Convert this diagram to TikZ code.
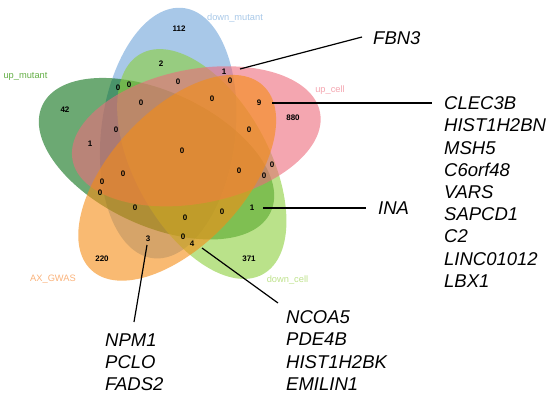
\documentclass[tikz,border=0pt]{standalone}
\usepackage{fontspec}
\setmainfont{Liberation Sans}
\definecolor{cblue}{RGB}{110,163,217}
\definecolor{cdgreen}{RGB}{10,112,22}
\definecolor{clgreen}{RGB}{140,207,60}
\definecolor{cpink}{RGB}{237,107,123}
\definecolor{corange}{RGB}{245,140,20}
\definecolor{lblue}{RGB}{168,200,232}
\definecolor{ldgreen}{RGB}{100,175,70}
\definecolor{lpink}{RGB}{244,166,176}
\definecolor{llgreen}{RGB}{190,226,140}
\definecolor{lorange}{RGB}{250,178,122}
\begin{document}
\begin{tikzpicture}[x=1pt,y=-1pt,
  num/.style={inner sep=0pt,font=\fontsize{8}{9}\selectfont\bfseries},
  setlab/.style={inner sep=0pt,font=\fontsize{9.3}{11}\selectfont},
  gene/.style={inner sep=0pt,align=left,font=\fontsize{18.5}{22.2}\selectfont\itshape},
  conn/.style={line width=1.2pt,black},
  venn/.style={fill opacity=0.6}]
\useasboundingbox (0,0) rectangle (550,397);
% ellipses
\path[venn,fill=cblue]   (168.2,133.1) circle[x radius=126,y radius=67,rotate=-97];
\path[venn,fill=cdgreen] (156.5,158.7) circle[x radius=126,y radius=67,rotate=-25];
\path[venn,fill=clgreen] (201.8,164.0) circle[x radius=126,y radius=67,rotate=-61];
\path[venn,fill=cpink]   (196.3,136.3) circle[x radius=126,y radius=67,rotate=-169];
\path[venn,fill=corange] (177.2,177.8) circle[x radius=126,y radius=67,rotate=-133];
% set labels
\node[setlab,text=lblue]   (lbA) at (235,18)  {down\_mutant};
\node[setlab,text=ldgreen] (lbB) at (25.5,76) {up\_mutant};
\node[setlab,text=lpink]   (lbC) at (330,90)  {up\_cell};
\node[setlab,text=llgreen] (lbD) at (287.5,280) {down\_cell};
\node[setlab,text=lorange] (lbE) at (53,279)  {AX\_GWAS};
% numbers
\node[num] (n1) at (179,29) {112};
\node[num] (n2) at (161,64) {2};
\node[num] (n3) at (224,72) {1};
\node[num] (n4) at (230,81) {0};
\node[num] (n5) at (178,82) {0};
\node[num] (n6) at (118,88) {0};
\node[num] (n7) at (129,85) {0};
\node[num] (n8) at (141,103) {0};
\node[num] (n9) at (212,99) {0};
\node[num] (n10) at (259,103) {9};
\node[num] (n11) at (293,118) {880};
\node[num] (n12) at (65,110) {42};
\node[num] (n13) at (116,130) {0};
\node[num] (n14) at (90,144) {1};
\node[num] (n15) at (249,130) {0};
\node[num] (n16) at (182,151) {0};
\node[num] (n17) at (123,174) {0};
\node[num] (n18) at (239,171) {0};
\node[num] (n19) at (272,165) {0};
\node[num] (n20) at (264,176) {0};
\node[num] (n21) at (102,182) {0};
\node[num] (n22) at (100,193) {0};
\node[num] (n23) at (135,208) {0};
\node[num] (n24) at (252,208) {1};
\node[num] (n25) at (222,212) {0};
\node[num] (n26) at (185,218) {0};
\node[num] (n27) at (148,239) {3};
\node[num] (n28) at (183,237) {0};
\node[num] (n29) at (192,244) {4};
\node[num] (n30) at (102,259) {220};
\node[num] (n31) at (249,259) {371};
% gene labels
\node[gene,anchor=west] (fbn) at (373,38) {FBN3};
\node[gene,anchor=north west] (clec) at (444,96.5) {CLEC3B\\HIST1H2BN\\MSH5\\C6orf48\\VARS\\SAPCD1\\C2\\LINC01012\\LBX1};
\node[gene,anchor=west] (ina) at (378,208) {INA};
\node[gene,anchor=north west] (npm) at (105,333.5) {NPM1\\PCLO\\FADS2};
\node[gene,anchor=north west] (ncoa) at (286,310.5) {NCOA5\\PDE4B\\HIST1H2BK\\EMILIN1};
% connector end points
\coordinate (fbnS) at (240,69);
\coordinate (fbnE) at (362,37);
\coordinate (clecS) at (272,103);
\coordinate (clecE) at (432,103);
\coordinate (inaS) at (263,208);
\coordinate (inaE) at (366,208);
\coordinate (npmS) at (147,245);
\coordinate (npmE) at (134,322);
\coordinate (ncoaS) at (202,248);
\coordinate (ncoaE) at (278,303);
\draw[conn] (fbnS) -- (fbnE);
\draw[conn] (clecS) -- (clecE);
\draw[conn] (inaS) -- (inaE);
\draw[conn] (npmS) -- (npmE);
\draw[conn] (ncoaS) -- (ncoaE);
\end{tikzpicture}
\end{document}
